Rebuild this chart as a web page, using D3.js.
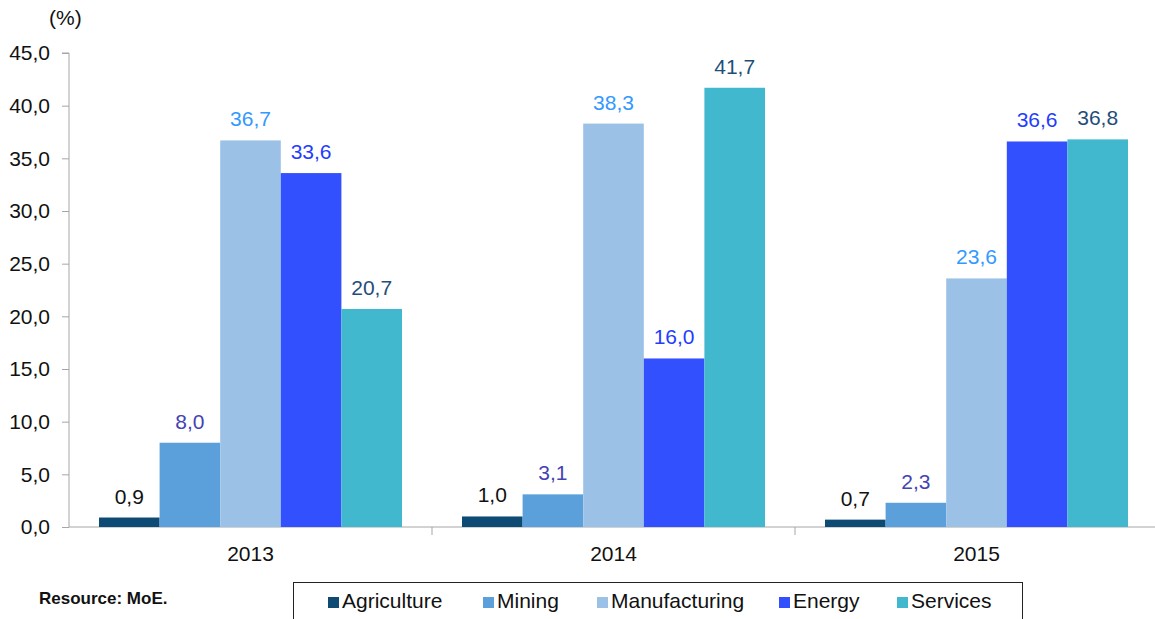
<!DOCTYPE html>
<html>
<head>
<meta charset="utf-8">
<script src="https://cdn.jsdelivr.net/npm/d3@7"></script>
<style>
  body { margin: 0; background: #fff; }
  text { font-family: "Liberation Sans", Arial, sans-serif; }
</style>
</head>
<body>
<svg id="chart" width="1155" height="619" viewBox="0 0 1155 619"></svg>
<script>
const years = ["2013", "2014", "2015"]
const sectors = ["Agriculture", "Mining", "Manufacturing", "Energy", "Services"]
const agriculture = [0.9, 1.0, 0.7]
const mining = [8.0, 3.1, 2.3]
const manufacturing = [36.7, 38.3, 23.6]
const energy = [33.6, 16.0, 36.6]
const services = [20.7, 41.7, 36.8]
const yTicks = [0, 5, 10, 15, 20, 25, 30, 35, 40, 45]

const barColors = ["#0d4a74", "#5ba0db", "#9bc2e6", "#3350ff", "#42b8cf"]
const labelColors = ["#111111", "#4343b4", "#3399ff", "#1f3dff", "#1f4e79"]

const series = [agriculture, mining, manufacturing, energy, services]
const data = years.map((yr, i) => ({
    year: yr,
    values: sectors.map((s, j) => ({ sector: s, value: series[j][i], k: j }))
}))

const svg = d3.select("#chart")
const mLeft = 69, mRight = 1158, mTop = 53, mBottom = 527

const x = d3.scaleBand().domain(years).range([mLeft, mRight]).padding(0)
const xi = d3.scaleBand().domain(sectors).range([30, x.bandwidth() - 30]).padding(0)
const y = d3.scaleLinear().domain([0, 45]).range([mBottom, mTop])

const fmt = v => d3.format(".1f")(v).replace(".", ",")

// y axis
const yAxis = svg.append("g")
    .attr("transform", `translate(${mLeft},0)`)
    .call(d3.axisLeft(y).tickValues(yTicks).tickSize(7).tickPadding(12).tickFormat(fmt))
yAxis.select(".domain").attr("stroke", "#a6a6a6").attr("d", `M-7,${mTop}H0V${mBottom}`)
yAxis.selectAll(".tick line").attr("stroke", "#a6a6a6")
yAxis.selectAll(".tick text").attr("font-size", 21).attr("fill", "#111")

// x axis
const xAxis = svg.append("g")
    .attr("transform", `translate(0,${mBottom})`)
    .call(d3.axisBottom(x).tickSize(0).tickPadding(19))
xAxis.select(".domain").attr("stroke", "#a6a6a6").attr("d", `M${mLeft},0H${mRight}`)
xAxis.selectAll(".tick text").attr("font-size", 21).attr("fill", "#111")
xAxis.selectAll(".sep")
    .data(years.slice(1))
    .enter()
    .append("line")
    .attr("x1", d => x(d)).attr("x2", d => x(d))
    .attr("y1", 0).attr("y2", 8)
    .attr("stroke", "#a6a6a6")

// bars
const groups = svg.append("g").selectAll("g")
    .data(data)
    .enter()
    .append("g")
    .attr("transform", d => `translate(${x(d.year)},0)`)

groups.selectAll("rect")
    .data(d => d.values)
    .enter()
    .append("rect")
    .attr("x", d => xi(d.sector))
    .attr("width", xi.bandwidth())
    .attr("y", d => y(d.value))
    .attr("height", d => y(0) - y(d.value))
    .attr("fill", d => barColors[d.k])

groups.selectAll(".lbl")
    .data(d => d.values)
    .enter()
    .append("text")
    .attr("class", "lbl")
    .attr("x", d => xi(d.sector) + xi.bandwidth() / 2)
    .attr("y", d => y(d.value) - 14)
    .attr("text-anchor", "middle")
    .attr("font-size", 21)
    .attr("fill", d => labelColors[d.k])
    .text(d => fmt(d.value))

// unit
svg.append("text")
    .attr("x", 49).attr("y", 25)
    .attr("font-size", 21)
    .attr("fill", "#111")
    .text("(%)")

// source
svg.append("text")
    .attr("x", 39).attr("y", 604)
    .attr("font-size", 17)
    .attr("font-weight", "bold")
    .attr("fill", "#111")
    .text("Resource: MoE.")

// legend
svg.append("rect")
    .attr("x", 293.5).attr("y", 582.5)
    .attr("width", 729).attr("height", 50)
    .attr("fill", "none").attr("stroke", "#222").attr("stroke-width", 1)

const legendX = [328, 483, 597, 779, 897]
const legend = svg.append("g").selectAll("g")
    .data(sectors)
    .enter()
    .append("g")
    .attr("transform", (d, i) => `translate(${legendX[i]},0)`)
legend.append("rect")
    .attr("x", 0).attr("y", 597)
    .attr("width", 11).attr("height", 11)
    .attr("fill", (d, i) => barColors[i])
legend.append("text")
    .attr("x", 14).attr("y", 608)
    .attr("font-size", 21)
    .attr("fill", "#111")
    .text(d => d)
</script>
</body>
</html>
